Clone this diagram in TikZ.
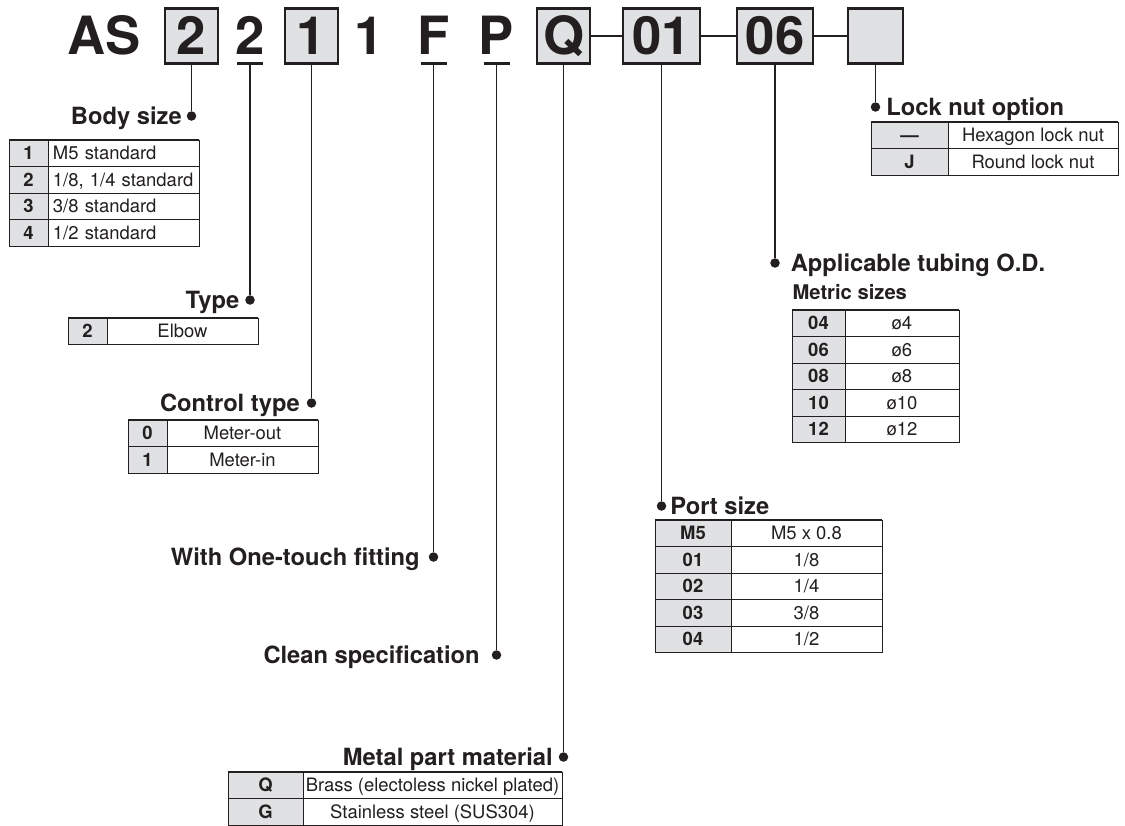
\documentclass[tikz,border=0pt]{standalone}
\usepackage{fontspec}
\setmainfont{TeX Gyre Heros}
\usetikzlibrary{positioning}
\definecolor{ink}{RGB}{35,31,32}
\definecolor{keygray}{RGB}{224,225,227}

\begin{document}
\begin{tikzpicture}[x=0.02cm, y=-0.02cm, semithick, color=ink]
  \tikzstyle{codechar} = [rectangle, font=\fontsize{30}{30}\selectfont\bfseries,
    text height=21.5pt, text depth=0pt, minimum height=1.1cm, inner sep=0pt, outer sep=0pt]
  \tikzstyle{codebox} = [codechar, draw, line width=1.2pt, fill=keygray, minimum width=1.06cm]
  \tikzstyle{dot} = [circle, fill, inner sep=0pt, minimum size=0.19cm]
  \tikzstyle{heading} = [font=\fontsize{13.5}{13.5}\selectfont\bfseries,
    text height=9.7pt, text depth=0pt, inner sep=0pt]
  \tikzstyle{keycell} = [rectangle, draw, line width=0.5pt, fill=keygray,
    font=\fontsize{10.5}{10.5}\selectfont\bfseries, text height=7.6pt, text depth=0pt,
    minimum height=0.53cm, minimum width=0.78cm, inner sep=1pt, outer sep=0pt]
  \tikzstyle{valcell} = [keycell, fill=white, font=\fontsize{10.5}{10.5}\selectfont, minimum width=3.02cm]
  \tikzstyle{lvalcell} = [valcell, text width=2.82cm, align=left, inner xsep=0.1cm]
  \tikzstyle{line} = [draw, line width=1.1pt]
  \tikzstyle{link} = [draw, line width=1.4pt]
  \tikzstyle{toprule} = [draw, line width=1pt]

  \useasboundingbox (0,0) rectangle (1125,825);

  % Place nodes
  \node [codechar] (as) at (104.5,36) {AS};
  \node [codebox] (size) at (191.5,36) {2};
  \node [codechar] (type) at (250,36) {2};
  \node [codebox] (ctrl) at (311.5,36) {1};
  \node [codechar] (one) at (369,36) {1};
  \node [codechar] (fit) at (433.5,36) {F};
  \node [codechar] (clean) at (496.5,36) {P};
  \node [codebox] (metal) at (563.5,36) {Q};
  \node [codebox, minimum width=1.54cm] (port) at (661.5,36) {01};
  \node [codebox, minimum width=1.52cm] (tube) at (775,36) {06};
  \node [codebox, minimum width=1.1cm] (nut) at (875.5,36) {};

  \draw [line width=1.2pt] ([xshift=-0.26cm]type.south) -- ([xshift=0.26cm]type.south);
  \draw [line width=1.2pt] ([xshift=-0.26cm]fit.south) -- ([xshift=0.26cm]fit.south);
  \draw [line width=1.2pt] ([xshift=-0.26cm]clean.south) -- ([xshift=0.26cm]clean.south);

  \node [dot] (sizedot) at (size.south |- 0,116) {};
  \node [dot] (typedot) at (type.south |- 0,300) {};
  \node [dot] (ctrldot) at (ctrl.south |- 0,403) {};
  \node [dot] (fitdot) at (fit.south |- 0,557) {};
  \node [dot] (cleandot) at (clean.south |- 0,655) {};
  \node [dot] (metaldot) at (metal.south |- 0,757) {};
  \node [dot] (portdot) at (port.south |- 0,506) {};
  \node [dot] (tubedot) at (tube.south |- 0,263) {};
  \node [dot] (nutdot) at (nut.south |- 0,107) {};

  \node [heading, left=0.08cm of sizedot] (sizelbl) {Body size};
  \node [heading, left=0.1cm of typedot] (typelbl) {Type};
  \node [heading, left=0.12cm of ctrldot] (ctrllbl) {Control type};
  \node [heading, left=0.16cm of fitdot] (fitlbl) {With One-touch fitting};
  \node [heading, left=0.22cm of cleandot] (cleanlbl) {Clean specification};
  \node [heading, left=0.1cm of metaldot] (metallbl) {Metal part material};
  \node [heading, right=0.06cm of portdot] (portlbl) {Port size};
  \node [heading, right=0.2cm of tubedot] (tubelbl) {Applicable tubing O.D.};
  \node [heading, right=0.1cm of nutdot] (nutlbl) {Lock nut option};
  \node [font=\fontsize{11.5}{11.5}\selectfont\bfseries, inner sep=0pt, anchor=base west]
    (metric) at (792,299) {Metric sizes};

  % Body size table
  \node [keycell, anchor=north west] (s1) at (9,140) {1};
  \node [lvalcell, right=0pt of s1] (s1v) {M5 standard};
  \node [keycell, below=0pt of s1] (s2) {2};
  \node [lvalcell, right=0pt of s2] (s2v) {1/8, 1/4 standard};
  \node [keycell, below=0pt of s2] (s3) {3};
  \node [lvalcell, right=0pt of s3] (s3v) {3/8 standard};
  \node [keycell, below=0pt of s3] (s4) {4};
  \node [lvalcell, right=0pt of s4] (s4v) {1/2 standard};
  \path [toprule] (s1.north west) -- (s1v.north east);

  % Type table
  \node [keycell, anchor=north west] (t1) at (68,318) {2};
  \node [valcell, right=0pt of t1] (t1v) {Elbow};
  \path [toprule] (t1.north west) -- (t1v.north east);

  % Control type table
  \node [keycell, anchor=north west] (c1) at (128,420) {0};
  \node [valcell, right=0pt of c1] (c1v) {Meter-out};
  \node [keycell, below=0pt of c1] (c2) {1};
  \node [valcell, right=0pt of c2] (c2v) {Meter-in};
  \path [toprule] (c1.north west) -- (c1v.north east);

  % Lock nut table
  \node [keycell, minimum width=1.54cm, anchor=north west] (n1) at (871,122) {---};
  \node [valcell, minimum width=3.4cm, right=0pt of n1] (n1v) {Hexagon lock nut};
  \node [keycell, minimum width=1.54cm, below=0pt of n1] (n2) {J};
  \node [valcell, minimum width=3.4cm, right=0pt of n2] (n2v) {Round lock nut};
  \path [toprule] (n1.north west) -- (n1v.north east);

  % Tubing table
  \node [keycell, minimum width=1.06cm, anchor=north west] (d1) at (792,310) {04};
  \node [valcell, minimum width=2.28cm, right=0pt of d1] (d1v) {ø4};
  \node [keycell, minimum width=1.06cm, below=0pt of d1] (d2) {06};
  \node [valcell, minimum width=2.28cm, right=0pt of d2] (d2v) {ø6};
  \node [keycell, minimum width=1.06cm, below=0pt of d2] (d3) {08};
  \node [valcell, minimum width=2.28cm, right=0pt of d3] (d3v) {ø8};
  \node [keycell, minimum width=1.06cm, below=0pt of d3] (d4) {10};
  \node [valcell, minimum width=2.28cm, right=0pt of d4] (d4v) {ø10};
  \node [keycell, minimum width=1.06cm, below=0pt of d4] (d5) {12};
  \node [valcell, minimum width=2.28cm, right=0pt of d5] (d5v) {ø12};
  \path [toprule] (d1.north west) -- (d1v.north east);

  % Port size table
  \node [keycell, minimum width=1.52cm, anchor=north west] (p1) at (655,520) {M5};
  \node [valcell, right=0pt of p1] (p1v) {M5 x 0.8};
  \node [keycell, minimum width=1.52cm, below=0pt of p1] (p2) {01};
  \node [valcell, right=0pt of p2] (p2v) {1/8};
  \node [keycell, minimum width=1.52cm, below=0pt of p2] (p3) {02};
  \node [valcell, right=0pt of p3] (p3v) {1/4};
  \node [keycell, minimum width=1.52cm, below=0pt of p3] (p4) {03};
  \node [valcell, right=0pt of p4] (p4v) {3/8};
  \node [keycell, minimum width=1.52cm, below=0pt of p4] (p5) {04};
  \node [valcell, right=0pt of p5] (p5v) {1/2};
  \path [toprule] (p1.north west) -- (p1v.north east);

  % Metal part material table
  \node [keycell, minimum width=1.5cm, anchor=north west] (m1) at (228,772) {Q};
  \node [valcell, minimum width=5.18cm, inner xsep=0pt, right=0pt of m1] (m1v) {Brass (electoless nickel plated)};
  \node [keycell, minimum width=1.5cm, below=0pt of m1] (m2) {G};
  \node [valcell, minimum width=5.18cm, inner xsep=0pt, right=0pt of m2] (m2v) {Stainless steel (SUS304)};
  \path [toprule] (m1.north west) -- (m1v.north east);

  % Draw edges
  \path [link] (metal) -- (port);
  \path [link] (port) -- (tube);
  \path [link] (tube) -- (nut);
  \path [line] (size) -- (sizedot);
  \path [line] (type) -- (typedot);
  \path [line] (ctrl) -- (ctrldot);
  \path [line] (fit) -- (fitdot);
  \path [line] (clean) -- (cleandot);
  \path [line] (metal) -- (metaldot);
  \path [line] (port) -- (portdot);
  \path [line] (tube) -- (tubedot);
  \path [line] (nut) -- (nutdot);

\end{tikzpicture}
\end{document}
